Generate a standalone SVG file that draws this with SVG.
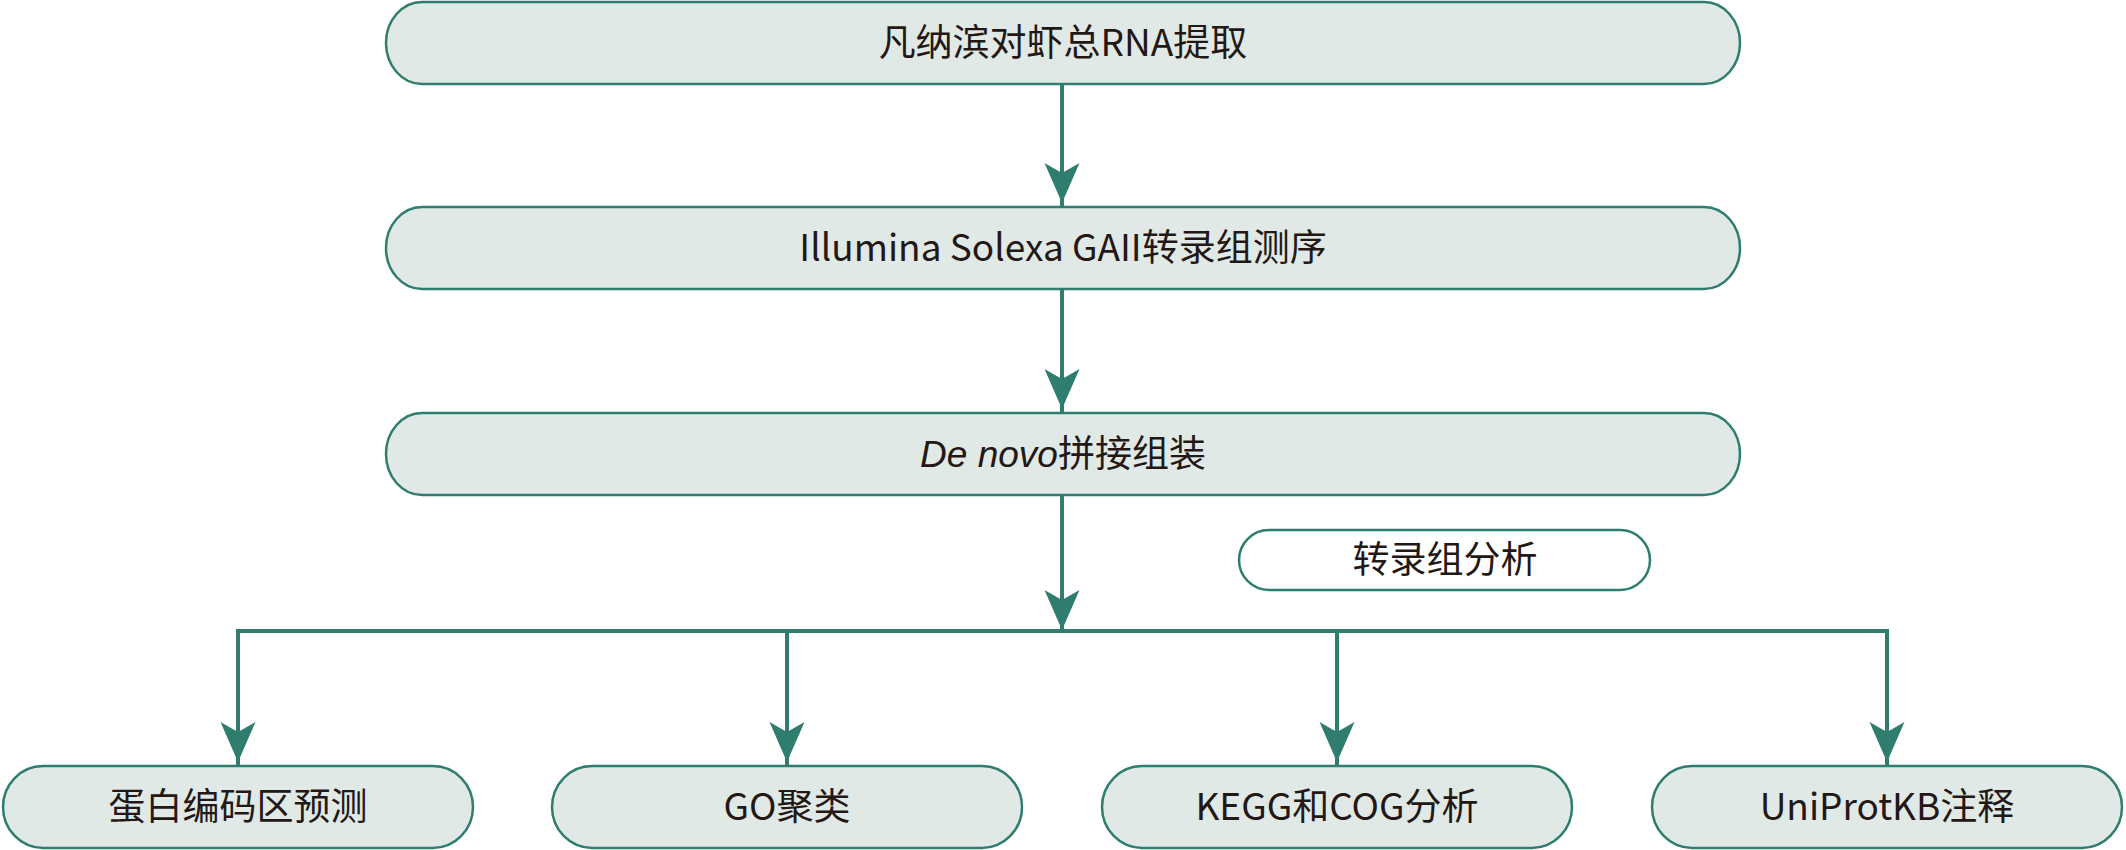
<svg xmlns="http://www.w3.org/2000/svg" width="2126" height="850" viewBox="0 0 2126 850">
<style>
.box{fill:#e0e9e6;stroke:#2e7d6f;stroke-width:2.5}
.wbox{fill:#ffffff;stroke:#2e7d6f;stroke-width:2.5}
.t{font-family:"Noto Sans CJK SC","Noto Sans",sans-serif;font-size:37px;fill:#231815;text-anchor:middle}
.c{fill:none;stroke:#2e7d6f;stroke-width:4}
</style>
<defs>
<marker id="ah" markerUnits="userSpaceOnUse" markerWidth="44" markerHeight="40" viewBox="-42 -20 44 40" refX="0" refY="0" orient="auto">
<path d="M0,0 L-40,-17.5 L-30,0 L-40,17.5 Z" fill="#2e7d6f"/>
</marker>
</defs>
<g id="connectors">
<line class="c" x1="1062" y1="84" x2="1062" y2="206"/>
<line class="c" x1="1062" y1="84" x2="1062" y2="203" marker-end="url(#ah)"/>
<line class="c" x1="1062" y1="289" x2="1062" y2="412"/>
<line class="c" x1="1062" y1="289" x2="1062" y2="409" marker-end="url(#ah)"/>
<line class="c" x1="1062" y1="496" x2="1062" y2="630" marker-end="url(#ah)"/>
<polyline class="c" points="238,766 238,631 1887,631 1887,766"/>
<line class="c" x1="238" y1="631" x2="238" y2="762" marker-end="url(#ah)"/>
<line class="c" x1="787" y1="631" x2="787" y2="766"/>
<line class="c" x1="787" y1="631" x2="787" y2="762" marker-end="url(#ah)"/>
<line class="c" x1="1337" y1="631" x2="1337" y2="766"/>
<line class="c" x1="1337" y1="631" x2="1337" y2="762" marker-end="url(#ah)"/>
<line class="c" x1="1887" y1="631" x2="1887" y2="762" marker-end="url(#ah)"/>
</g>
<g id="n1">
<rect class="box" x="386" y="2" width="1354" height="82" rx="36" ry="41"/>
<text class="t" x="1063" y="56">凡纳滨对虾总RNA提取</text>
</g>
<g id="n2">
<rect class="box" x="386" y="207" width="1354" height="82" rx="36" ry="41"/>
<text class="t" x="1063" y="261">Illumina Solexa GAII转录组测序</text>
</g>
<g id="n3">
<rect class="box" x="386" y="413" width="1354" height="82" rx="36" ry="41"/>
<text class="t" x="1063" y="467"><tspan font-style="italic" font-family="Liberation Sans, sans-serif">De novo</tspan>拼接组装</text>
</g>
<g id="label">
<rect class="wbox" x="1239" y="530" width="411" height="60" rx="30" ry="30"/>
<text class="t" x="1445" y="573">转录组分析</text>
</g>
<g id="b1">
<rect class="box" x="3" y="766" width="470" height="82" rx="40" ry="41"/>
<text class="t" x="238" y="820">蛋白编码区预测</text>
</g>
<g id="b2">
<rect class="box" x="552" y="766" width="470" height="82" rx="40" ry="41"/>
<text class="t" x="787" y="820">GO聚类</text>
</g>
<g id="b3">
<rect class="box" x="1102" y="766" width="470" height="82" rx="40" ry="41"/>
<text class="t" x="1337" y="820">KEGG和COG分析</text>
</g>
<g id="b4">
<rect class="box" x="1652" y="766" width="470" height="82" rx="40" ry="41"/>
<text class="t" x="1887" y="820">UniProtKB注释</text>
</g>
</svg>
